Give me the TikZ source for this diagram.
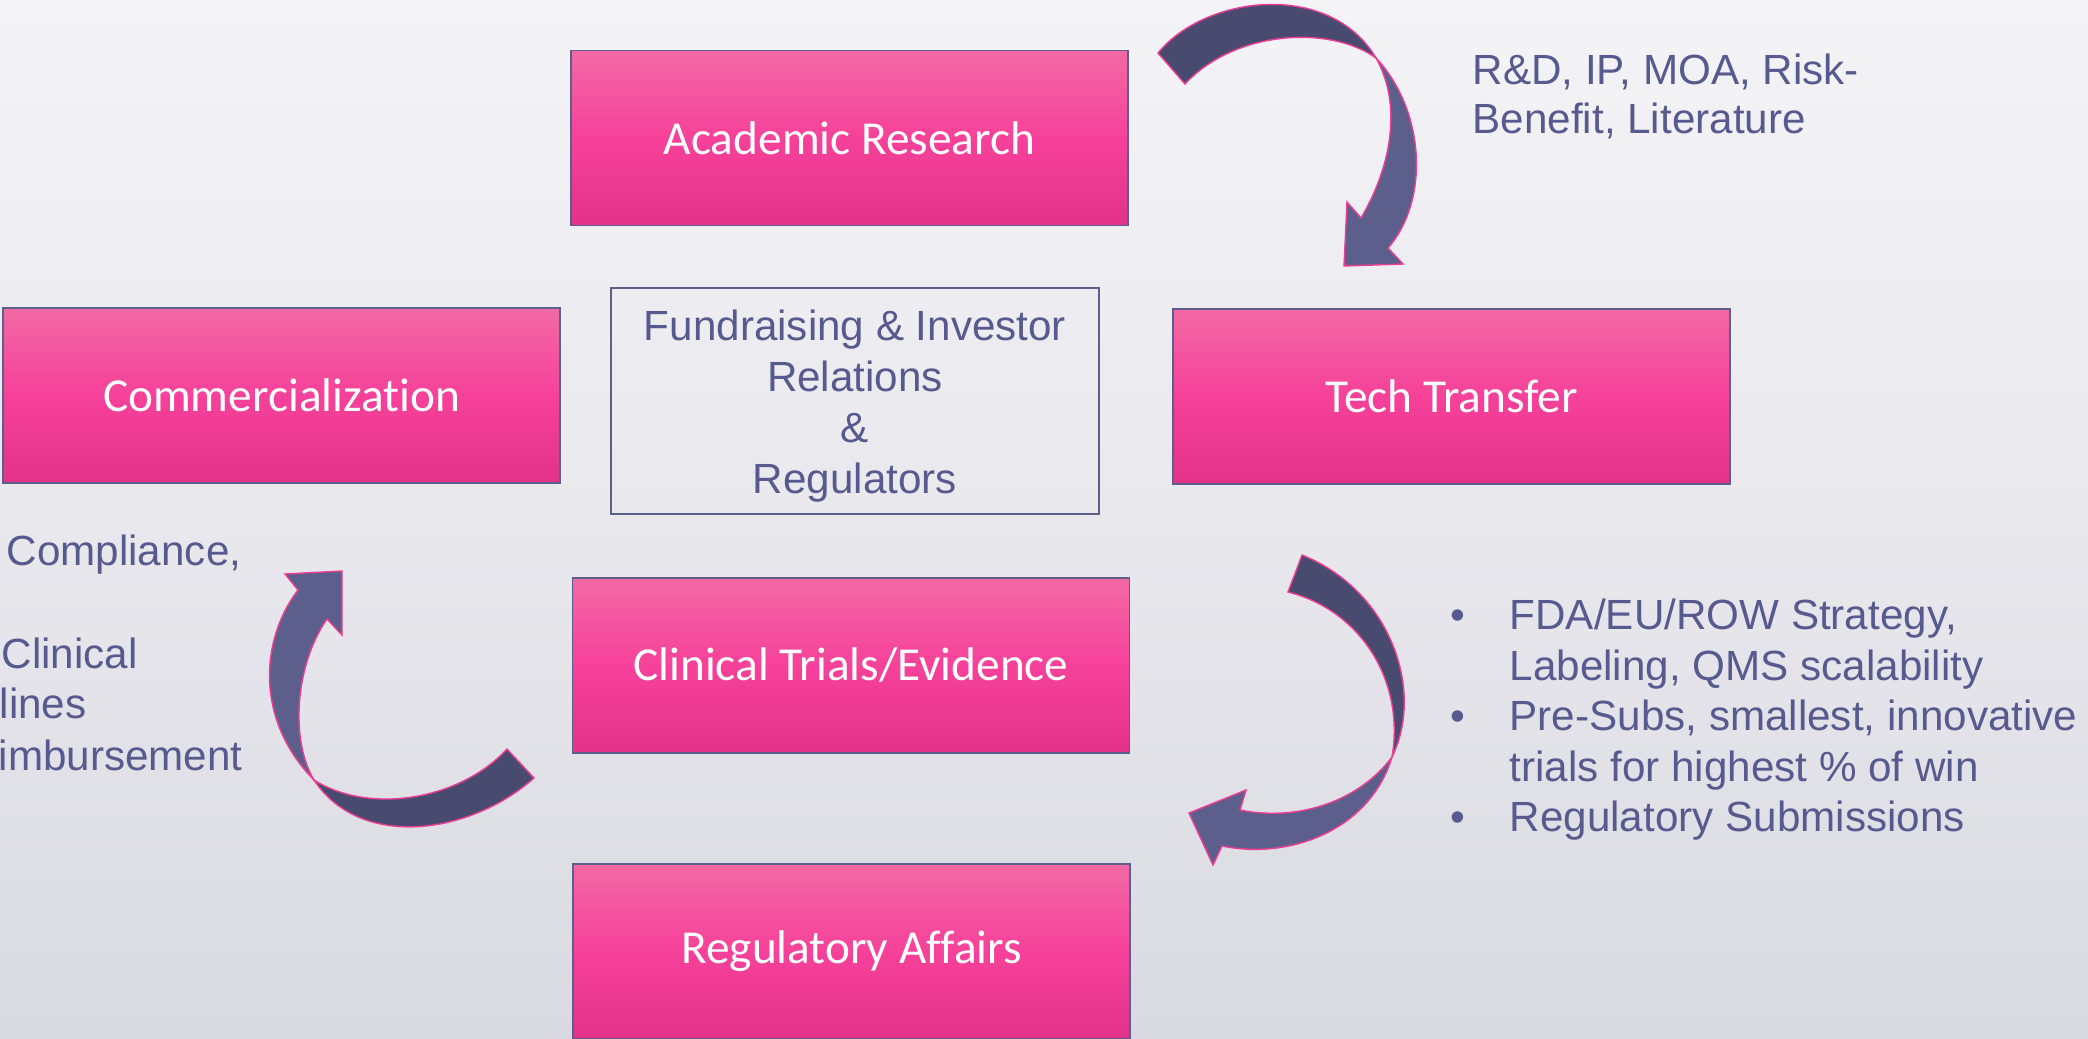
\documentclass[tikz,border=0pt]{standalone}
\usepackage{fontspec}
\setmainfont{Liberation Sans}
\newfontfamily\boxfont[Ligatures=CommonOff]{Carlito}

\begin{document}
\begin{tikzpicture}[x=0.01cm, y=-0.01cm,
  stage/.style={draw=cEdge, line width=0.45pt, top color=pkT, bottom color=pkB, middle color=pkM,
    minimum width=5.57cm, minimum height=1.75cm, inner sep=0pt, text=white,
    font=\boxfont\fontsize{13.45}{16}\selectfont},
  note/.style={text=cTxt, inner sep=0pt, font=\fontsize{12}{14.5}\selectfont},
  back/.style={fill=cBack, draw=cRim, line width=0.4pt},
  front/.style={fill=cFront, draw=cRim, line width=0.4pt}]
\definecolor{bgT}{RGB}{244,244,247}
\definecolor{bgM}{RGB}{232,232,237}
\definecolor{bgB}{RGB}{217,217,225}
\definecolor{pkT}{RGB}{242,105,164}
\definecolor{pkM}{RGB}{246,65,154}
\definecolor{pkB}{RGB}{226,50,137}
\definecolor{cEdge}{RGB}{92,94,140}
\definecolor{cTxt}{RGB}{86,90,142}
\definecolor{cBack}{RGB}{73,74,112}
\definecolor{cFront}{RGB}{92,95,140}
\definecolor{cRim}{RGB}{236,62,146}

\fill[top color=bgT, bottom color=bgB, middle color=bgM] (0,0) rectangle (2088,1038);
\useasboundingbox (0,0) rectangle (2088,1038);

% curved arrows: dark back half, then the lighter half with the head
\filldraw[back] (1158,53) .. controls (1205,-5) and (1330,-20) .. (1376,58)
  .. controls (1330,25) and (1235,30) .. (1185,84) -- cycle;
\filldraw[front] (1376,58) .. controls (1425,110) and (1430,200) .. (1388,248)
  -- (1403,264) -- (1344,266) -- (1347,202) -- (1361,218)
  .. controls (1395,160) and (1400,100) .. (1376,58) -- cycle;

\filldraw[back] (1302,555) .. controls (1390,590) and (1425,690) .. (1392,757)
  .. controls (1405,680) and (1360,610) .. (1288,592) -- cycle;
\filldraw[front] (1392,757) .. controls (1370,830) and (1290,860) .. (1222,846)
  -- (1213,865) -- (1189,813) -- (1246,790) -- (1240,810)
  .. controls (1300,822) and (1360,800) .. (1392,757) -- cycle;

\filldraw[back] (534,778) .. controls (470,835) and (360,850) .. (314,780)
  .. controls (370,815) and (460,800) .. (507,749) -- cycle;
\filldraw[front] (314,780) .. controls (255,720) and (260,640) .. (298,590)
  -- (285,574) -- (342,571) -- (342,635) -- (327,619)
  .. controls (295,665) and (290,740) .. (314,780) -- cycle;

\node[stage] (acad) at (849.5,138) {Academic Research};
\node[stage] (tech) at (1451.5,396.5) {Tech Transfer};
\node[stage] (comm) at (281.5,395.5) {Commercialization};
\node[stage] (clin) at (851,665.5) {Clinical Trials/Evidence};
\node[stage] (reg) at (851.5,951.5) {Regulatory Affairs};

\node[draw=cEdge, line width=0.45pt, minimum width=4.88cm, minimum height=2.26cm] (fund) at (855,401) {};
\node[note, align=center] (fundtxt) at (855,406) {Fundraising \& Investor\\Relations\\\&\\Regulators};

\foreach \t/\y [count=\i] in {{R\&D, IP, MOA, Risk-}/84, {Benefit, Literature}/133}
  \node[note, anchor=base west] (rd\i) at (1472,\y) {\t};

\foreach \y [count=\i] in {629,730,831}
  \node[note, anchor=base west] (dot\i) at (1450,\y) {\textbullet};
\foreach \t/\y [count=\i] in {{FDA/EU/ROW Strategy,}/629, {Labeling, QMS scalability}/680,
    {Pre-Subs, smallest, innovative}/730, {trials for highest \% of win}/781, {Regulatory Submissions}/831}
  \node[note, anchor=base west] (ra\i) at (1509,\y) {\t};

\foreach \t/\x/\y [count=\i] in {{Compliance,}/6/565, {Clinical}/1/668, {lines}/-1/718, {imbursement}/-2/770}
  \node[note, anchor=base west] (cm\i) at (\x,\y) {\t};
\end{tikzpicture}
\end{document}
